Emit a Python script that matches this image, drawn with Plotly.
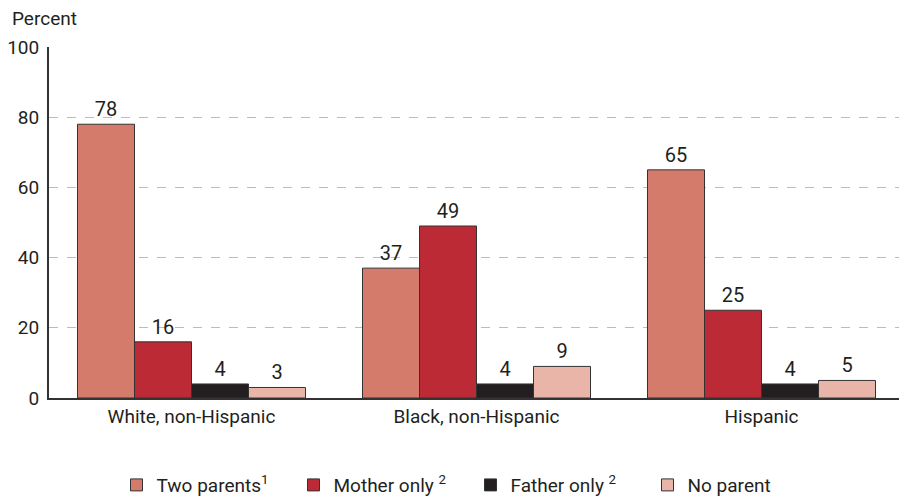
import plotly.graph_objects as go

categories = ["White, non-Hispanic", "Black, non-Hispanic", "Hispanic"]
series_names = ["Two parents<sup>1</sup>", "Mother only <sup>2</sup>", "Father only <sup>2</sup>", "No parent"]
two_parents = [78, 37, 65]
mother_only = [16, 49, 25]
father_only = [4, 4, 4]
no_parent = [3, 9, 5]
colors = ["#D47B6C", "#BC2A35", "#231F20", "#E9B5A8"]
y_ticks = [0, 20, 40, 60, 80, 100]

FONT = "Roboto, Arial, sans-serif"

fig = go.Figure()
for name, vals, col in zip(series_names, [two_parents, mother_only, father_only, no_parent], colors):
    fig.add_trace(go.Bar(
        x=categories, y=vals, name=name,
        marker=dict(color=col, line=dict(color="#333333", width=1)),
        text=[str(v) for v in vals], textposition="outside",
        textfont=dict(size=20, color="#231F20", family=FONT),
        cliponaxis=False,
    ))

fig.update_layout(
    width=899, height=493,
    barmode="group", bargap=0.2, bargroupgap=0,
    plot_bgcolor="white", paper_bgcolor="white",
    margin=dict(l=41, r=3, t=39, b=103, autoexpand=False),
    font=dict(family=FONT, size=18, color="#231F20"),
    showlegend=True,
    legend=dict(orientation="h", x=0.493, xanchor="center", y=-0.248, yanchor="middle",
                font=dict(size=19, family=FONT), entrywidth=132, entrywidthmode="pixels",
                itemwidth=30, traceorder="normal"),
    xaxis=dict(range=[-0.5, 2.5], showline=True, linecolor="#333333", linewidth=2,
               ticks="", tickfont=dict(size=19), automargin=False),
    yaxis=dict(range=[0, 100], tickvals=y_ticks, showline=True, linecolor="#333333", linewidth=2,
               showgrid=True, gridcolor="#BBBBBB", griddash="dash", gridwidth=1,
               zeroline=False, ticks="", tickfont=dict(size=19), ticklabelstandoff=4,
               automargin=False),
    annotations=[dict(text="Percent", xref="paper", yref="paper", x=-0.046, y=1.0,
                      yshift=29, xanchor="left", yanchor="middle", showarrow=False,
                      font=dict(size=19, family=FONT))],
)

fig.write_html("out.html")
